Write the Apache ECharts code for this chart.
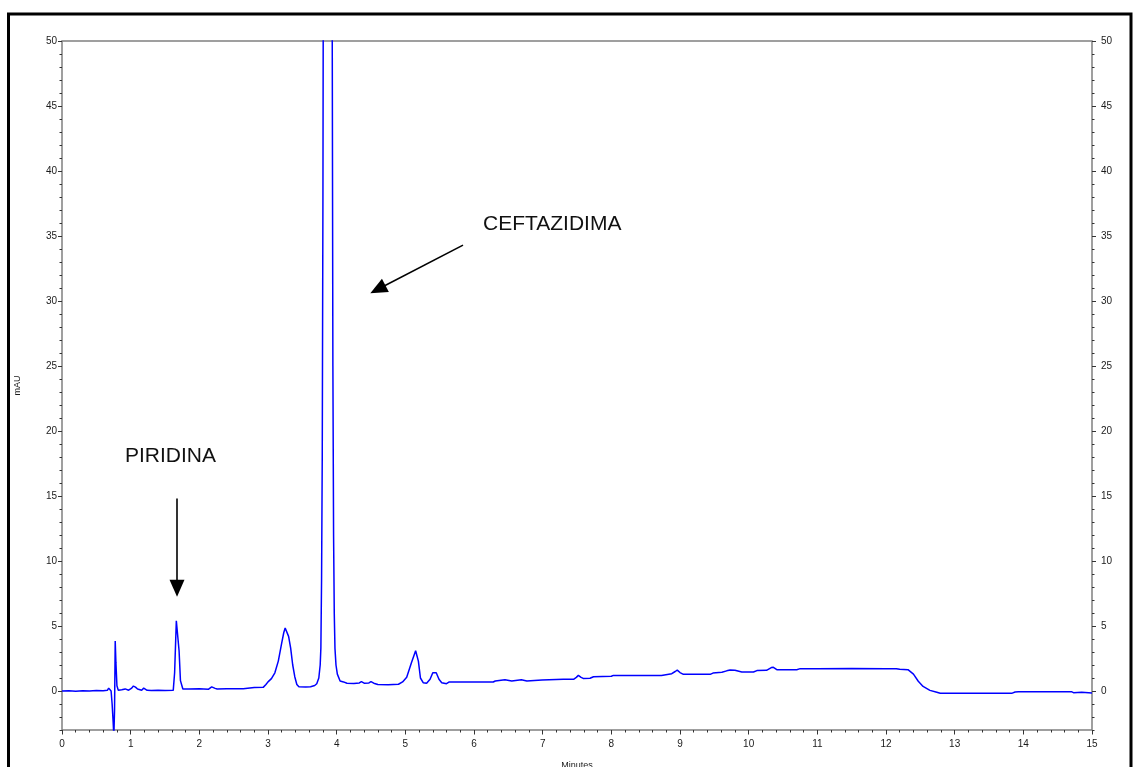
<!DOCTYPE html>
<html>
<head>
<meta charset="utf-8">
<title>Cromatograma</title>
<script src="https://cdn.jsdelivr.net/npm/echarts@6/dist/echarts.min.js"></script>
<style>
  html, body { margin: 0; padding: 0; background: #ffffff; }
  #chart { width: 1133px; height: 767px; }
</style>
</head>
<body>
<div id="chart"></div>
<script>
// Retention time (min)
const times = [
  0.00, 0.10, 0.20, 0.30, 0.40, 0.50, 0.60, 0.66, 0.68, 0.70,
  0.715, 0.73, 0.745, 0.755, 0.765, 0.775, 0.785, 0.80, 0.82, 0.87,
  0.92, 0.97, 1.01, 1.04, 1.07, 1.10, 1.16, 1.19, 1.21, 1.24,
  1.30, 1.40, 1.50, 1.62, 1.64, 1.665, 1.69, 1.705, 1.725, 1.76,
  1.85, 2.00, 2.13, 2.18, 2.20, 2.23, 2.26, 2.40, 2.64, 2.66,
  2.80, 2.93, 2.97, 3.00, 3.05, 3.10, 3.15, 3.20, 3.23, 3.25,
  3.27, 3.30, 3.33, 3.36, 3.39, 3.42, 3.45, 3.55, 3.62, 3.68,
  3.71, 3.74, 3.76, 3.77, 3.78, 3.79, 3.80, 3.81, 3.83, 3.85,
  3.87, 3.89, 3.91, 3.925, 3.935, 3.945, 3.955, 3.965, 3.975, 3.99,
  4.01, 4.05, 4.10, 4.15, 4.25, 4.33, 4.36, 4.40, 4.47, 4.50,
  4.54, 4.60, 4.75, 4.90, 4.96, 5.02, 5.09, 5.15, 5.19, 5.22,
  5.26, 5.31, 5.36, 5.40, 5.45, 5.49, 5.53, 5.60, 5.64, 5.80,
  6.00, 6.28, 6.31, 6.45, 6.55, 6.69, 6.77, 6.99, 7.30, 7.45,
  7.49, 7.52, 7.56, 7.59, 7.69, 7.74, 8.00, 8.03, 8.40, 8.73,
  8.88, 8.93, 8.96, 9.00, 9.05, 9.44, 9.48, 9.61, 9.68, 9.73,
  9.80, 9.90, 10.07, 10.12, 10.26, 10.33, 10.36, 10.41, 10.70, 10.75,
  11.00, 11.50, 12.00, 12.15, 12.20, 12.32, 12.40, 12.47, 12.54, 12.64,
  12.74, 12.79, 13.20, 13.60, 13.83, 13.88, 13.93, 14.30, 14.70, 14.73,
  14.85, 15.00
];

// Detector response (mAU)
const absorbance = [
  0.00, 0.02, -0.02, 0.01, 0.00, 0.03, 0.02, 0.05, 0.22, 0.25,
  0.00, -1.0, -2.4, -3.5, -1.5, 3.85, 2.2, 0.40, 0.05, 0.10,
  0.16, 0.06, 0.20, 0.38, 0.30, 0.15, 0.06, 0.22, 0.26, 0.05,
  0.03, 0.05, 0.03, 0.05, 1.4, 5.4, 5.3, 3.1, 0.80, 0.15,
  0.15, 0.18, 0.13, 0.32, 0.38, 0.20, 0.15, 0.18, 0.18, 0.28,
  0.27, 0.28, 0.50, 0.70, 0.95, 1.4, 2.3, 3.7, 4.5, 4.85,
  4.8, 4.2, 3.3, 2.0, 1.1, 0.50, 0.32, 0.30, 0.33, 0.42,
  0.56, 1.0, 2.0, 3.3, 8.5, 18, 38, 70, 200, 420,
  520, 420, 200, 90, 52, 25, 12, 6, 3.3, 2.0,
  1.3, 0.77, 0.70, 0.60, 0.58, 0.62, 0.72, 0.60, 0.62, 0.72,
  0.60, 0.50, 0.48, 0.52, 0.70, 1.05, 2.2, 3.1, 2.3, 1.0,
  0.64, 0.59, 0.90, 1.41, 1.41, 0.90, 0.64, 0.56, 0.70, 0.69,
  0.69, 0.69, 0.77, 0.87, 0.77, 0.87, 0.77, 0.85, 0.90, 0.90,
  1.05, 1.2, 1.05, 0.97, 0.98, 1.1, 1.13, 1.2, 1.2, 1.2,
  1.33, 1.5, 1.61, 1.42, 1.28, 1.28, 1.38, 1.44, 1.55, 1.61,
  1.59, 1.46, 1.46, 1.57, 1.59, 1.80, 1.82, 1.64, 1.64, 1.72,
  1.72, 1.73, 1.72, 1.72, 1.67, 1.64, 1.30, 0.75, 0.35, 0.05,
  -0.10, -0.18, -0.18, -0.18, -0.18, -0.08, -0.05, -0.05, -0.05, -0.13,
  -0.10, -0.15
];

// Axis ticks
const yMajorTicks = [0, 5, 10, 15, 20, 25, 30, 35, 40, 45, 50];
const yRange = [-3, 50];
const xRange = [0, 15];

// Peak annotations: label, arrow start (min, mAU), arrow tip (min, mAU)
const peakLabels = ['PIRIDINA', 'CEFTAZIDIMA'];
const arrowStarts = [[1.675, 14.8], [5.84, 34.3]];
const arrowTips = [[1.675, 7.9], [4.60, 30.9]];

const trace = times.map((t, i) => [t, absorbance[i]]);

const FONT = '"Liberation Sans", Arial, sans-serif';
const tickColor = '#333333';
const labelStyle = { fontFamily: FONT, fontSize: 10, color: '#1a1a1a' };

function majorY(position) {
  return {
    type: 'value', position: position, min: yRange[0], max: yRange[1],
    axisLine: { show: false, onZero: false },
    splitLine: { show: false },
    axisTick: { show: true, length: 4, customValues: yMajorTicks, lineStyle: { color: tickColor, width: 1 } },
    axisLabel: Object.assign({ show: true, customValues: yMajorTicks, margin: position === 'left' ? 5 : 9 }, labelStyle)
  };
}
function minorY(position) {
  return {
    type: 'value', position: position, min: yRange[0], max: yRange[1], interval: 1,
    axisLine: { show: false, onZero: false },
    splitLine: { show: false },
    axisTick: { show: true, length: 2.5, lineStyle: { color: tickColor, width: 1 } },
    axisLabel: { show: false }
  };
}

const chart = echarts.init(document.getElementById('chart'), null, { renderer: 'canvas' });

chart.setOption({
  animation: false,
  backgroundColor: '#ffffff',
  grid: {
    left: 62, right: 41, top: 41, bottom: 37,
    outerBoundsMode: 'none',
    containLabel: false,
    show: true, borderColor: '#808080', borderWidth: 1.5, backgroundColor: 'transparent'
  },
  xAxis: {
    type: 'value', min: xRange[0], max: xRange[1], interval: 1,
    position: 'bottom',
    name: 'Minutes', nameLocation: 'middle', nameGap: 31,
    nameTextStyle: { fontFamily: FONT, fontSize: 9, color: '#1a1a1a' },
    axisLine: { show: false, onZero: false },
    splitLine: { show: false },
    axisTick: { show: true, length: 4.5, lineStyle: { color: tickColor, width: 1 } },
    minorTick: { show: true, splitNumber: 5, length: 2.5, lineStyle: { color: tickColor, width: 1 } },
    axisLabel: Object.assign({ margin: 9 }, labelStyle)
  },
  yAxis: [
    Object.assign(majorY('left'), {
      name: 'mAU', nameLocation: 'middle', nameGap: 40, nameRotate: 90,
      nameTextStyle: { fontFamily: FONT, fontSize: 9, color: '#1a1a1a' }
    }),
    minorY('left'),
    majorY('right'),
    minorY('right')
  ],
  series: [{
    type: 'line',
    data: trace,
    yAxisIndex: 0,
    showSymbol: false,
    clip: true,
    lineStyle: { color: '#0000ff', width: 1.5 },
    itemStyle: { color: '#0000ff' },
    markLine: {
      silent: true,
      symbol: ['none', 'triangle'],
      symbolSize: [15, 17],
      label: { show: false },
      lineStyle: { color: '#000000', width: 1.6, type: 'solid' },
      data: arrowStarts.map((s, i) => [{ coord: s }, { coord: arrowTips[i] }])
    }
  }],
  graphic: [
    {
      type: 'rect', silent: true,
      shape: { x: 8.5, y: 14, width: 1122.5, height: 780 },
      style: { fill: 'none', stroke: '#000000', lineWidth: 3 }
    },
    {
      type: 'text', left: 125, top: 446, silent: true,
      style: { text: peakLabels[0], font: '21px ' + FONT, fill: '#111111' }
    },
    {
      type: 'text', left: 483, top: 214, silent: true,
      style: { text: peakLabels[1], font: '21px ' + FONT, fill: '#111111' }
    }
  ]
});
</script>
</body>
</html>
